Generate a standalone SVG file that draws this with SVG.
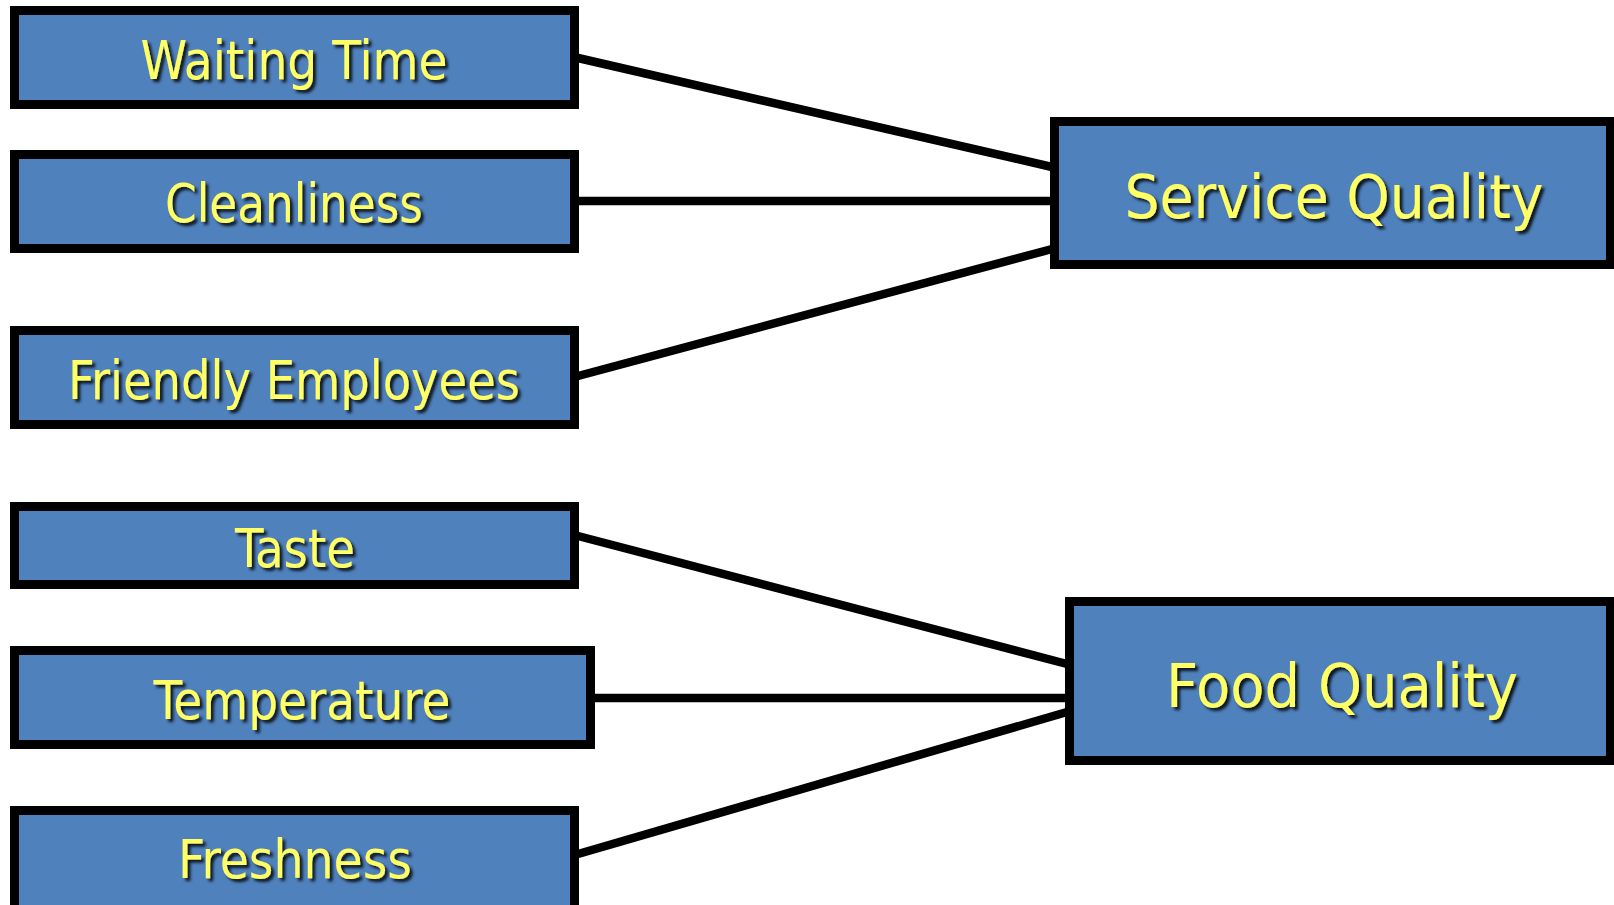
<svg xmlns="http://www.w3.org/2000/svg" width="1614" height="905" viewBox="0 0 1614 905">
  <defs>
    <filter id="shadow" x="-10%" y="-30%" width="120%" height="160%">
      <feDropShadow dx="3" dy="3" stdDeviation="1.5" flood-color="#000" flood-opacity="0.85"/>
    </filter>
    <style>
      .box { fill: #4F81BD; stroke: #000; stroke-width: 9; }
      .lbl { font-family: "DejaVu Sans Condensed", "DejaVu Sans", sans-serif; font-size: 54px; fill: #FFFF66; text-anchor: middle; filter: url(#shadow); }
      .big { font-size: 60px; }
      .conn { stroke: #000; stroke-width: 8.5; fill: none; }
    </style>
  </defs>
  <rect width="1614" height="905" fill="#fff"/>
  <g id="connectors">
    <line class="conn" x1="578" y1="58" x2="1052" y2="167"/>
    <line class="conn" x1="578" y1="201" x2="1052" y2="201"/>
    <line class="conn" x1="578" y1="376" x2="1052" y2="249"/>
    <line class="conn" x1="578" y1="536" x2="1067" y2="664"/>
    <line class="conn" x1="593" y1="698" x2="1067" y2="698"/>
    <line class="conn" x1="578" y1="854" x2="1067" y2="712"/>
  </g>
  <g id="waiting-time">
    <rect class="box" x="14.5" y="10.5" width="560" height="94"/>
    <text class="lbl" x="294" y="79" textLength="307" lengthAdjust="spacingAndGlyphs">Waiting Time</text>
  </g>
  <g id="cleanliness">
    <rect class="box" x="14.5" y="154.5" width="560" height="94"/>
    <text class="lbl" x="294" y="222" textLength="258" lengthAdjust="spacingAndGlyphs">Cleanliness</text>
  </g>
  <g id="friendly-employees">
    <rect class="box" x="14.5" y="330.5" width="560" height="94"/>
    <text class="lbl" x="294" y="399" textLength="452" lengthAdjust="spacingAndGlyphs">Friendly Employees</text>
  </g>
  <g id="taste">
    <rect class="box" x="14.5" y="506.5" width="560" height="78"/>
    <text class="lbl" x="295" y="567" textLength="120" lengthAdjust="spacingAndGlyphs">Taste</text>
  </g>
  <g id="temperature">
    <rect class="box" x="14.5" y="650.5" width="576" height="94"/>
    <text class="lbl" x="302" y="719" textLength="297" lengthAdjust="spacingAndGlyphs">Temperature</text>
  </g>
  <g id="freshness">
    <rect class="box" x="14.5" y="810.5" width="560" height="120"/>
    <text class="lbl" x="295" y="878" textLength="234" lengthAdjust="spacingAndGlyphs">Freshness</text>
  </g>
  <g id="service-quality">
    <rect class="box" x="1054.5" y="121.5" width="556" height="143"/>
    <text class="lbl big" x="1334" y="218" textLength="419" lengthAdjust="spacingAndGlyphs">Service Quality</text>
  </g>
  <g id="food-quality">
    <rect class="box" x="1069.5" y="601.5" width="541" height="159"/>
    <text class="lbl big" x="1342" y="707" textLength="352" lengthAdjust="spacingAndGlyphs">Food Quality</text>
  </g>
</svg>
